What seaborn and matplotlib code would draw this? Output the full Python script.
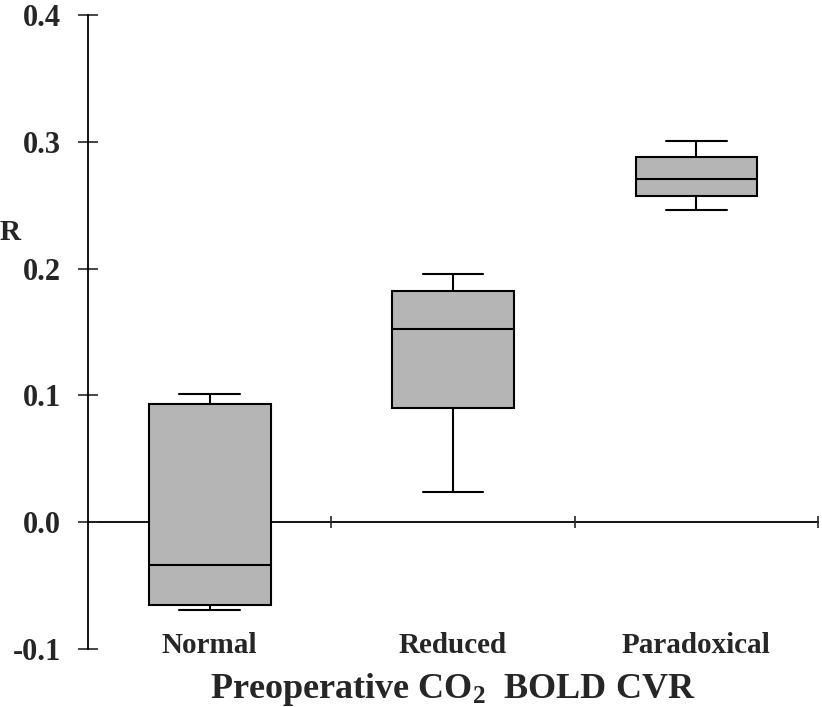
import pandas as pd
import seaborn as sns
import matplotlib.pyplot as plt

custom_params = {"axes.spines.right": False, "axes.spines.top": False}
sns.set_theme(style="white", rc=custom_params)
plt.rcParams['font.family'] = ['Liberation Serif', 'DejaVu Serif']
plt.rcParams['font.weight'] = 'bold'
plt.rcParams['mathtext.fontset'] = 'custom'
plt.rcParams['mathtext.rm'] = 'Liberation Serif:bold'
plt.rcParams['mathtext.it'] = 'Liberation Serif:bold'
plt.rcParams['mathtext.bf'] = 'Liberation Serif:bold'

# five-number summaries (min, q1, median, q3, max)
groups = ['Normal', 'Reduced', 'Paradoxical']
whisker_low = [-0.069, 0.024, 0.246]
quart_low = [-0.065, 0.090, 0.257]
medians = [-0.034, 0.152, 0.271]
quart_high = [0.093, 0.182, 0.288]
whisker_high = [0.101, 0.196, 0.301]

y_ticks = [-0.1, 0.0, 0.1, 0.2, 0.3, 0.4]

rows = []
for i, g in enumerate(groups):
    for v in (whisker_low[i], quart_low[i], medians[i], quart_high[i], whisker_high[i]):
        rows.append({'group': g, 'value': v})
df = pd.DataFrame(rows)

fig = plt.figure(figsize=(8.22, 7.07), dpi=100)
ax = fig.add_axes([88 / 822, 1 - 649 / 707, 730 / 822, 634 / 707])

sns.boxplot(data=df, x='group', y='value', order=groups, whis=(0, 100),
            width=0.5, color='#b5b5b5', saturation=1, linecolor='black',
            linewidth=1.5, ax=ax)

ax.set_ylim(-0.1, 0.4)
ax.set_xlim(-0.5, 2.5)
ax.set_yticks(y_ticks)
ax.set_yticklabels([f'{t:.1f}' for t in y_ticks], fontsize=22, fontweight='bold')
ax.tick_params(axis='y', direction='inout', length=15, width=1.2, pad=12, left=True)

# x axis drawn through zero, category labels at the bottom
ax.spines['bottom'].set_position(('data', 0))
ax.spines['bottom'].set_zorder(0.5)
ax.spines['left'].set_linewidth(1.3)
ax.spines['bottom'].set_linewidth(1.3)
ax.spines['left'].set_color('black')
ax.spines['bottom'].set_color('black')
ax.set_xticks([0.5, 1.5, 2.5], minor=True)
ax.tick_params(axis='x', which='minor', direction='inout', length=8, width=1.2, bottom=True)
ax.tick_params(axis='x', which='major', length=0, pad=79)
ax.set_xticks(range(len(groups)))
ax.set_xticklabels(groups, fontsize=21, fontweight='bold')
ax.set_xlabel(r'Preoperative CO$_2$  BOLD CVR', fontsize=26, fontweight='bold', labelpad=9)
ax.set_ylabel('')

fig.text(0, 1 - 233 / 707, 'R', ha='left', va='center',
         fontsize=21, fontweight='bold')

plt.savefig('out.png', dpi=100)
